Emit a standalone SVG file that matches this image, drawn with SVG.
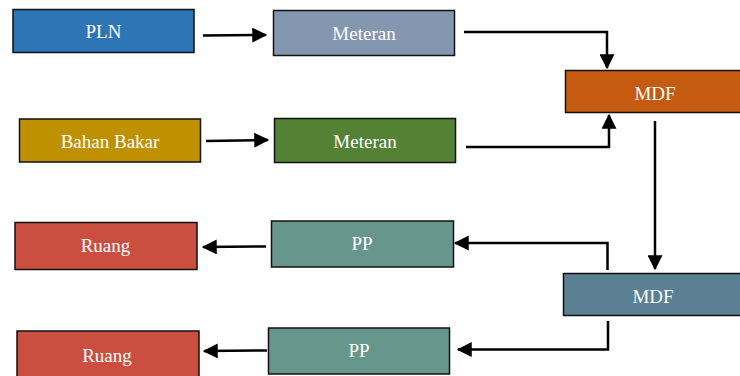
<svg xmlns="http://www.w3.org/2000/svg" width="740" height="376" viewBox="0 0 740 376">
<defs>
<style>
.box{stroke:#111;stroke-width:1.5}
.lbl{font-family:"Liberation Serif","Times New Roman",serif;font-size:19px;fill:#fff;text-anchor:middle}
.con{fill:none;stroke:#000;stroke-width:2.5}
</style>
<marker id="ah" markerWidth="6" markerHeight="6" refX="5.5" refY="3" orient="auto" markerUnits="strokeWidth">
<path d="M0,0 L6,3 L0,6 Z" fill="#000"/>
</marker>
</defs>
<rect width="740" height="376" fill="#fff"/>
<g id="pln"><rect class="box" x="13" y="9.5" width="181" height="43" fill="#2E75B6"/><text class="lbl" x="103.5" y="38">PLN</text></g>
<g id="meteran1"><rect class="box" x="273.5" y="10.5" width="181" height="45" fill="#8497B0"/><text class="lbl" x="364" y="40">Meteran</text></g>
<g id="mdf1"><rect class="box" x="565.5" y="70.5" width="180" height="42" fill="#C55A11"/><text class="lbl" x="655" y="100">MDF</text></g>
<g id="bahanbakar"><rect class="box" x="19.5" y="119" width="181" height="43" fill="#BF9000"/><text class="lbl" x="110" y="148">Bahan Bakar</text></g>
<g id="meteran2"><rect class="box" x="274.5" y="118.5" width="181" height="44" fill="#548235"/><text class="lbl" x="365" y="148">Meteran</text></g>
<g id="ruang1"><rect class="box" x="15" y="222.5" width="182" height="47" fill="#CB4F40"/><text class="lbl" x="105.5" y="252">Ruang</text></g>
<g id="pp1"><rect class="box" x="271.5" y="221" width="182" height="46" fill="#67978C"/><text class="lbl" x="362" y="250">PP</text></g>
<g id="mdf2"><rect class="box" x="563.5" y="273.5" width="182" height="42" fill="#5B7F93"/><text class="lbl" x="653" y="303">MDF</text></g>
<g id="ruang2"><rect class="box" x="17" y="331" width="182" height="50" fill="#CB4F40"/><text class="lbl" x="107" y="362">Ruang</text></g>
<g id="pp2"><rect class="box" x="268.5" y="328" width="181" height="46" fill="#67978C"/><text class="lbl" x="359" y="357">PP</text></g>
<g id="connectors">
<path class="con" d="M203,35.5 L266,35" marker-end="url(#ah)"/>
<path class="con" d="M464,32 L607,32 L607,68" marker-end="url(#ah)"/>
<path class="con" d="M206,141 L268,140" marker-end="url(#ah)"/>
<path class="con" d="M466,147 L609,147 L609,115" marker-end="url(#ah)"/>
<path class="con" d="M655,121 L655,269" marker-end="url(#ah)"/>
<path class="con" d="M607.5,270 L607.5,243 L455,243" marker-end="url(#ah)"/>
<path class="con" d="M266,246.5 L203,247" marker-end="url(#ah)"/>
<path class="con" d="M608,321 L608,349.5 L458,349.5" marker-end="url(#ah)"/>
<path class="con" d="M267,350.5 L204,351" marker-end="url(#ah)"/>
</g>
</svg>
